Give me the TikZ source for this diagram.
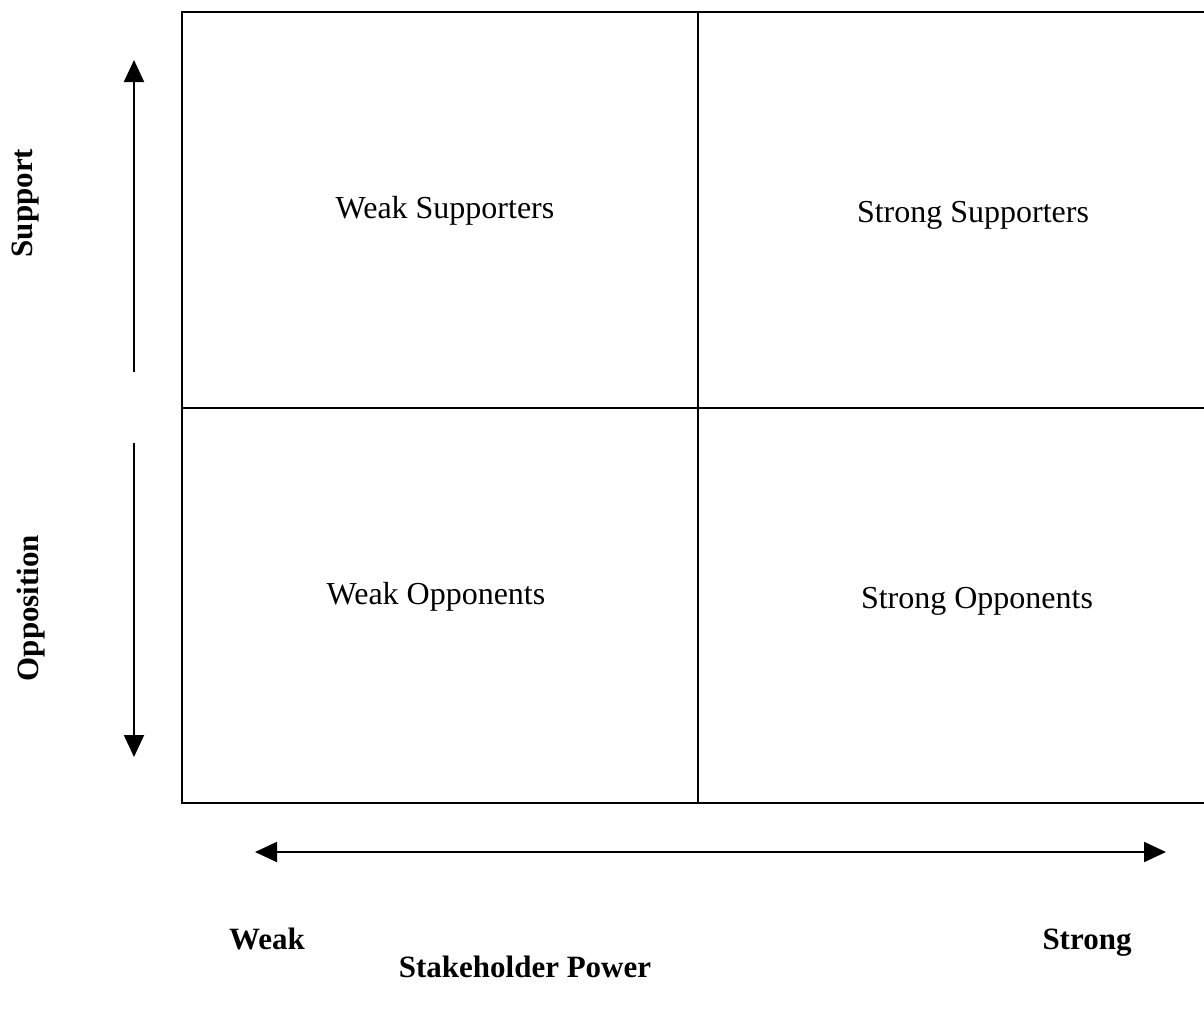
\documentclass[tikz,border=0pt]{standalone}
\usepackage{fontspec}
\setmainfont{Liberation Serif}
\usetikzlibrary{arrows.meta}
\tikzset{
  Feld/.style={inner sep=0pt,font=\fontsize{16}{19}\selectfont}, % Quadranten
  Achse/.style={inner sep=0pt,font=\fontsize{15.5}{18}\selectfont\bfseries}, % Achsentexte
  Spitze/.tip={Triangle[width=10pt,length=11pt]},
  Pfeil/.style={line width=1pt,-Spitze},
  DPfeil/.style={line width=1pt,Spitze-Spitze}
}
\begin{document}
\begin{tikzpicture}[x=0.5pt,y=-0.5pt,line width=1pt]
\useasboundingbox (0,0) rectangle (1204,1008);

%Raster
\coordinate (OL) at (182,12);
\coordinate (OM) at (698,12);
\coordinate (OR) at (1206,12);
\coordinate (ML) at (182,408);
\coordinate (MR) at (1206,408);
\coordinate (UL) at (182,803);
\coordinate (UM) at (698,803);
\coordinate (UR) at (1206,803);

\draw (OR) -- (OL) -- (UL) -- (UR);
\draw (ML) -- (MR);
\draw (OM) -- (UM);

%Quadranten
\node[Feld] (WS) at (445,211) {Weak Supporters};
\node[Feld] (SS) at (973,215) {Strong Supporters};
\node[Feld] (WO) at (436,597) {Weak Opponents};
\node[Feld] (SO) at (977,601) {Strong Opponents};

%Pfeile
\coordinate (SupA) at (134,372);
\coordinate (SupE) at (134,60);
\coordinate (OppA) at (134,443);
\coordinate (OppE) at (134,757);
\coordinate (PowL) at (255,852);
\coordinate (PowR) at (1166,852);
\draw[Pfeil] (SupA) -- (SupE);
\draw[Pfeil] (OppA) -- (OppE);
\draw[DPfeil] (PowL) -- (PowR);

%Achsentexte
\node[Achse,rotate=90] (Sup) at (26,203) {Support};
\node[Achse,rotate=90] (Opp) at (31,608) {Opposition};
\node[Achse] (Weak) at (267,939) {Weak};
\node[Achse] (Strong) at (1087,943) {Strong};
\node[Achse] (Power) at (525,967) {Stakeholder Power};

\end{tikzpicture}
\end{document}
